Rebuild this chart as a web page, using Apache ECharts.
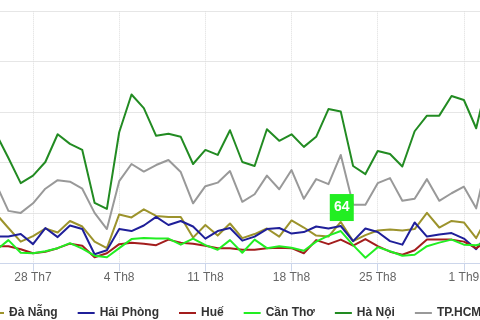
<!DOCTYPE html>
<html>
<head>
<meta charset="utf-8">
<script src="https://cdn.jsdelivr.net/npm/echarts@6/dist/echarts.min.js"></script>
<style>
html,body{margin:0;padding:0;background:#fff;overflow:hidden;}
#chart{width:480px;height:320px;}
</style>
</head>
<body>
<div id="chart"></div>
<script>
// Categories: days from 25 Jul to 3 Sep (chart is a cropped window of a wider chart)
var categories = [
  '25 Th7','26 Th7','27 Th7','28 Th7','29 Th7','30 Th7','31 Th7',
  '1 Th8','2 Th8','3 Th8','4 Th8','5 Th8','6 Th8','7 Th8','8 Th8','9 Th8','10 Th8',
  '11 Th8','12 Th8','13 Th8','14 Th8','15 Th8','16 Th8','17 Th8','18 Th8','19 Th8','20 Th8',
  '21 Th8','22 Th8','23 Th8','24 Th8','25 Th8','26 Th8','27 Th8','28 Th8','29 Th8','30 Th8','31 Th8',
  '1 Th9','2 Th9','3 Th9'
];
var seriesNames = ['Đà Nẵng','Hải Phòng','Huế','Cần Thơ','Hà Nội','TP.HCM'];
var daNang   = [98,70,43,54,69,61,84,73,43,30,97,91,107,94,92,92,51,76,55,79,50,58,69,53,85,71,55,53,82,44,56,65,67,65,68,100,71,84,81,50,96];
var haiPhong = [53,53,58,38,70,52,75,68,18,26,68,64,75,92,76,84,73,49,64,70,45,53,68,70,59,62,73,69,74,44,69,62,44,37,81,53,57,60,49,28,62];
var hue      = [34,34,28,20,23,30,39,35,12,20,38,41,39,36,47,41,39,35,30,30,27,27,30,31,30,20,46,38,47,35,48,34,23,17,26,47,47,47,43,30,46];
var canTho   = [26,46,21,20,24,30,40,29,15,12,30,48,50,49,49,37,49,36,27,46,21,47,30,34,31,25,43,55,64,36,11,32,24,15,17,34,41,47,37,36,42];
var haNoi    = [257,209,159,174,201,256,237,225,120,108,260,335,308,253,257,251,197,225,215,264,201,193,266,243,256,231,251,306,301,193,177,223,217,192,262,293,293,332,324,268,372];
var tpHCM    = [157,104,100,119,148,165,162,148,100,68,163,197,182,195,205,181,119,153,160,183,122,137,174,147,185,128,167,157,215,116,116,159,169,124,128,167,124,139,152,109,215];
var yTicks = [0,100,200,300,400,500];
var colors = ['#9c932c','#1f1f99','#a31d1d','#22ee22','#228b22','#999999'];

var values = [daNang, haiPhong, hue, canTho, haNoi, tpHCM];
var labelSeries = 3; // Cần Thơ max value gets a data label
var weekly = function (i) { return i % 7 === 3; };

var chart = echarts.init(document.getElementById('chart'), null, {renderer: 'canvas'});
var series = values.map(function (arr, si) {
  var s = {
    name: seriesNames[si],
    type: 'line',
    data: arr,
    symbol: 'none',
    showSymbol: false,
    lineStyle: {width: 2, color: colors[si], join: 'round', cap: 'round'},
    itemStyle: {color: colors[si]},
    emphasis: {disabled: true},
    z: 2 + si
  };
  if (si === labelSeries) {
    var maxV = Math.max.apply(null, arr);
    var idx = arr.indexOf(maxV);
    s.markPoint = {
      z: 20,
      symbol: 'rect',
      symbolSize: [24, 27],
      symbolOffset: [1, -23.5],
      itemStyle: {color: colors[si]},
      label: {
        show: true, position: 'inside', color: '#ffffff',
        fontFamily: 'Liberation Sans', fontWeight: 'bold', fontSize: 14,
        formatter: '{c}'
      },
      data: [{coord: [idx, maxV], value: maxV}],
      silent: true
    };
  }
  return s;
});

chart.setOption({
  animation: false,
  backgroundColor: '#ffffff',
  textStyle: {fontFamily: 'Liberation Sans'},
  grid: {left: -3.9, right: -8.5, top: 11.3, bottom: 56.7, containLabel: false, outerBoundsMode: 'none'},
  legend: {
    data: seriesNames,
    left: -18, top: 302, width: 700,
    icon: 'rect', itemWidth: 17, itemHeight: 2, itemGap: 20,
    textStyle: {fontFamily: 'Liberation Sans', fontWeight: 'bold', fontSize: 12, color: '#333333'}
  },
  xAxis: {
    type: 'category',
    data: categories,
    boundaryGap: false,
    axisLine: {lineStyle: {color: '#ccd6eb', width: 1}},
    axisTick: {show: true, length: 8, interval: weekly, lineStyle: {color: '#ccd6eb'}},
    axisLabel: {interval: weekly, color: '#666666', fontSize: 12, fontFamily: 'Liberation Sans', margin: 8},
    splitLine: {show: true, interval: weekly, lineStyle: {color: '#dddddd', type: 'dotted', width: 1}}
  },
  yAxis: {
    type: 'value',
    min: yTicks[0], max: yTicks[yTicks.length - 1], interval: 100,
    axisLabel: {show: false},
    axisLine: {show: false},
    axisTick: {show: false},
    splitLine: {lineStyle: {color: '#e6e6e6', width: 1}}
  },
  series: series
});
</script>
</body>
</html>
